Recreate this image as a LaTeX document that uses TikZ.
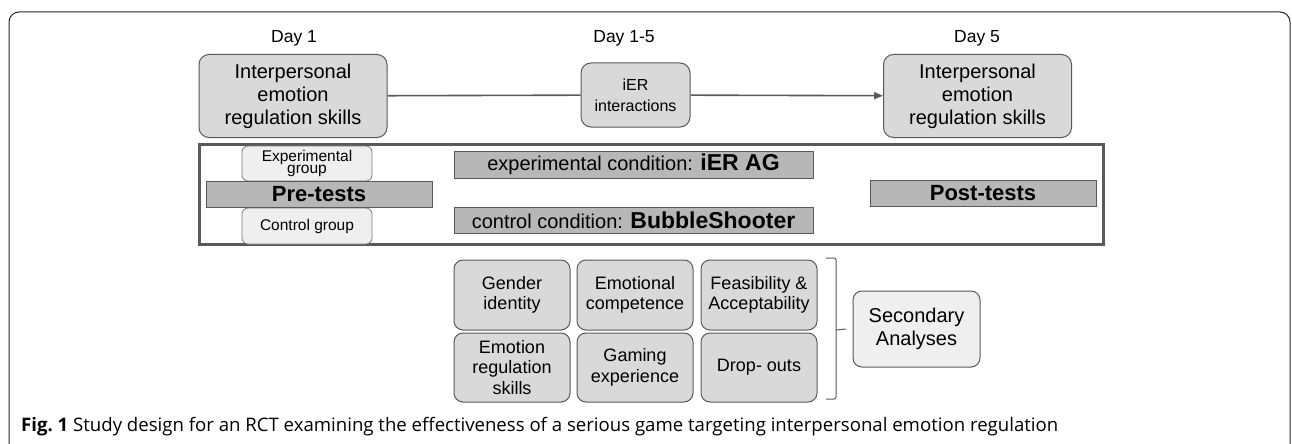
\documentclass[tikz,border=0pt]{standalone}
\usepackage{fontspec}
\setmainfont{Liberation Sans}
\newfontfamily\capfont{Open Sans}
\usepackage{tikz}
\usetikzlibrary{arrows.meta, positioning}

\definecolor{boxgray}{HTML}{D9D9D9}
\definecolor{palegray}{HTML}{EFEFEF}
\definecolor{bargray}{HTML}{B7B7B7}
\definecolor{edgegray}{HTML}{595959}

\begin{document}
\begin{tikzpicture}[x=1pt, y=-1pt,
            every node/.style={align=center, inner sep=0pt},
            daylabel/.style={font=\fontsize{17.5}{20}\selectfont},
            stagebox/.style={draw=edgegray, fill=boxgray, line width=1pt, rounded corners=10pt,
                minimum width=188pt, minimum height=83pt, font=\fontsize{20}{23}\selectfont},
            groupbox/.style={draw=edgegray!80, fill=palegray, line width=0.8pt, rounded corners=6pt,
                minimum width=130pt, font=\fontsize{15.5}{12}\selectfont},
            testbar/.style={draw=edgegray, fill=bargray, line width=1pt,
                minimum width=226pt, minimum height=26pt, font=\fontsize{22}{24}\selectfont\bfseries},
            condbar/.style={draw=edgegray, fill=bargray, line width=1pt,
                minimum width=359pt, minimum height=27pt, font=\fontsize{20}{22}\selectfont},
            outcomebox/.style={draw=edgegray, fill=boxgray, line width=1pt, rounded corners=9pt,
                minimum width=116pt, minimum height=69pt, font=\fontsize{18}{20.5}\selectfont},
        ]
        \useasboundingbox (0,0) rectangle (1292,444);
        \draw[black!85, line width=1pt, rounded corners=10pt] (9,470) -- (9,12) -- (1290,12) -- (1290,470);

        % timeline
        \node (dayone) at (294,38) [daylabel] {Day 1};
        \node (dayrange) at (624,38) [daylabel] {Day 1-5};
        \node (dayfive) at (977,38) [daylabel] {Day 5};

        \node (skillspre) at (293,96) [stagebox] {Interpersonal\\emotion\\regulation skills};
        \node (ier) at (635.5,95) [stagebox, minimum width=109pt, minimum height=64pt,
            font=\fontsize{16}{21}\selectfont] {iER\\interactions};
        \node (skillspost) at (977.5,96) [stagebox] {Interpersonal\\emotion\\regulation skills};

        \draw[edgegray, line width=1.6pt] (skillspre) -- (ier);
        \draw[edgegray, line width=1.6pt, -{Triangle[length=9pt, width=7pt]}] (ier) -- (skillspost);

        % trial
        \node (trial) at (651,194) [draw=edgegray, line width=3pt, minimum width=904pt, minimum height=100pt] {};

        \node (expgroup) at (307,163.5) [groupbox, minimum height=35pt] {Experimental\\group};
        \node (ctrlgroup) at (307,226) [groupbox, minimum height=36pt] {Control group};
        \node (pretests) at (319,194) [testbar] {Pre-tests};
        \node (posttests) at (983,193) [testbar] {Post-tests};

        \node (expcond) at (633.5,164.5) [condbar] {experimental condition: {\fontsize{23}{24}\selectfont\bfseries iER AG}};
        \node (ctrlcond) at (633.5,220) [condbar, minimum height=26pt] {control condition: {\fontsize{23}{24}\selectfont\bfseries BubbleShooter}};

        % secondary outcomes
        \node (gender) at (512,295) [outcomebox, minimum height=70pt] {Gender\\identity};
        \node (emocomp) at (635,295) [outcomebox, minimum height=70pt] {Emotional\\competence};
        \node (feasible) at (759,295) [outcomebox, minimum height=70pt] {Feasibility \&\\Acceptability};
        \node (erskills) at (512,367.5) [outcomebox] {Emotion\\regulation\\skills};
        \node (gaming) at (635,367.5) [outcomebox] {Gaming\\experience};
        \node (dropouts) at (759,367.5) [outcomebox] {Drop- outs};

        \node (secondary) at (916.5,329) [outcomebox, fill=palegray, minimum width=127pt, minimum height=76pt,
            font=\fontsize{20}{23}\selectfont] {Secondary\\Analyses};

        \coordinate (bracetop) at (826,258);
        \coordinate (bracebot) at (826,399);
        \coordinate (bracemid) at (836,330);
        \draw[edgegray, line width=1pt, rounded corners=2pt] (bracetop) -- ++(10,0) -- ++(0,141) -- (bracebot);
        \draw[edgegray, line width=1pt] (bracemid) -- (secondary.west -| 846,0);

        \node (caption) at (21,427) [anchor=west, font=\capfont\fontsize{18.6}{20}\selectfont\frenchspacing]
            {\textbf{Fig. 1} Study design for an RCT examining the effectiveness of a serious game targeting interpersonal emotion regulation};
        \end{tikzpicture}
\end{document}
